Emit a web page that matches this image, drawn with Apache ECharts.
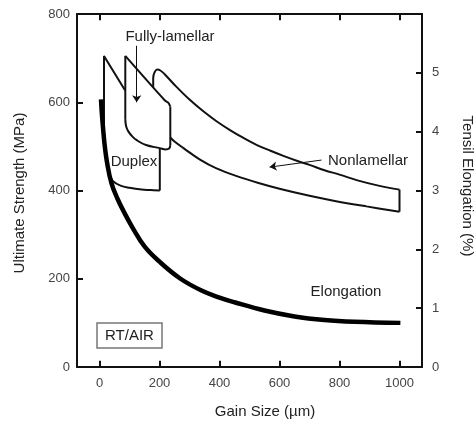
<!DOCTYPE html>
<html lang="en">
<head>
    <meta charset="UTF-8">
    <title>Strength / Elongation vs Gain Size</title>
    <script src="https://cdn.jsdelivr.net/npm/echarts@6.0.0/dist/echarts.min.js"></script>
    <style>
        html, body { margin: 0; padding: 0; background: #fff; }
        #main { width: 476px; height: 424px; }
    </style>
</head>
<body>
<div id="main"></div>
<script>
    // tick labels
    var xTicks = [0, 200, 400, 600, 800, 1000];

    // Duplex outline (MPa)
    var duplexEdge = [[15, 515], [15, 705], [85, 627]];
    var duplexBottom = [[35, 433], [45, 421], [70, 411], [100, 406], [140, 402], [170, 401], [201, 400]];
    var duplexRight = [[201, 400], [201, 496]];

    // Fully-lamellar outline (MPa)
    var flLeft = [[86, 705], [86, 560]];
    var flBottom = [[86, 560], [89, 545], [96, 534], [110, 522], [124, 514], [155, 503], [201, 496], [220, 493], [232, 495], [236, 503]];
    var flRight = [[236, 503], [236, 590]];
    var flTop = [[86, 705], [218, 604], [229, 599], [236, 590]];

    // Nonlamellar band (MPa)
    var nlTop = [[179, 634], [179, 655], [183, 667], [192, 674], [203, 672], [218, 663], [255, 636], [300, 606], [345, 580],
        [390, 557], [435, 537], [480, 519], [525, 503], [570, 490], [615, 478], [660, 467], [700, 458], [750, 446],
        [800, 436], [860, 423], [930, 411], [1000, 402]];
    var nlRight = [[1000, 402], [1000, 352]];
    var nlBottom = [[236, 520], [250, 511], [280, 496], [335, 470], [390, 450], [460, 432], [530, 417], [600, 404],
        [700, 388], [780, 377], [890, 364], [1000, 352]];

    // Elongation (%), right axis
    var elongation = [[5, 4.55], [8, 4.3], [12, 4.05], [17, 3.78], [25, 3.48], [40, 3.12], [60, 2.86], [80, 2.65],
        [110, 2.37], [150, 2.05], [200, 1.79], [270, 1.50], [340, 1.30], [400, 1.18], [450, 1.10], [550, 0.96],
        [650, 0.86], [750, 0.80], [850, 0.77], [1003, 0.75]];

    // annotation arrows (data coords)
    var flArrow = [[124, 728], [124, 600]];
    var nlArrow = [[740, 469], [567, 453]];

    var font = "'Liberation Sans', Arial, sans-serif";
    var ink = '#111';

    function outline(data, smooth) {
        return {
            type: 'line',
            data: data,
            smooth: smooth,
            symbol: 'none',
            lineStyle: {color: ink, width: 2},
            z: 3
        };
    }

    function arrow(pts) {
        return {
            type: 'lines',
            coordinateSystem: 'cartesian2d',
            symbol: ['none', 'arrow'],
            symbolSize: 7,
            lineStyle: {color: ink, width: 1, opacity: 1},
            data: [{coords: pts}],
            z: 4
        };
    }

    // inward x ticks on bottom and top frame (tick length ~ 14 MPa = 6px)
    var tickLen = 14;
    var xTickLines = [];
    xTicks.forEach(function (v) {
        xTickLines.push({coords: [[v, 0], [v, tickLen]]});
        xTickLines.push({coords: [[v, 800], [v, 800 - tickLen]]});
    });

    var tickStyle = {color: ink, width: 2};
    var lineStyle = {color: ink, width: 2};
    var labelStyle = {color: '#444', fontSize: 13, fontFamily: font};

    var chart = echarts.init(document.getElementById('main'));
    chart.setOption({
        animation: false,
        grid: {left: 77, right: 54, top: 14, bottom: 57},
        xAxis: [
            {
                type: 'value', position: 'bottom', min: -75, max: 1075,
                splitLine: {show: false},
                axisLine: {onZero: false, lineStyle: lineStyle},
                axisTick: {show: false},
                axisLabel: Object.assign({customValues: xTicks, margin: 10, formatter: function (v) { return String(v); }}, labelStyle)
            },
            {
                type: 'value', position: 'top', min: -75, max: 1075,
                splitLine: {show: false},
                axisLine: {onZero: false, lineStyle: lineStyle},
                axisTick: {show: false},
                axisLabel: {show: false}
            }
        ],
        yAxis: [
            {
                type: 'value', position: 'left', min: 0, max: 800, interval: 200,
                splitLine: {show: false},
                axisLine: {onZero: false, lineStyle: lineStyle},
                axisTick: {inside: true, length: 6, lineStyle: tickStyle},
                axisLabel: Object.assign({margin: 7}, labelStyle)
            },
            {
                type: 'value', position: 'right', min: 0, max: 6, interval: 1,
                splitLine: {show: false},
                axisLine: {onZero: false, lineStyle: lineStyle},
                axisTick: {inside: true, length: 6, lineStyle: tickStyle},
                axisLabel: Object.assign({
                    margin: 10,
                    formatter: function (v) { return v === 6 ? '' : String(v); }
                }, labelStyle)
            }
        ],
        series: [
            outline(duplexEdge, false),
            outline(duplexBottom, 0.4),
            outline(duplexRight, false),
            outline(flLeft, false),
            outline(flBottom, 0.4),
            outline(flRight, false),
            outline(flTop, 0.3),
            outline(nlTop, 0.4),
            outline(nlRight, false),
            outline(nlBottom, 0.4),
            {
                type: 'line',
                name: 'Elongation',
                yAxisIndex: 1,
                data: elongation,
                smooth: 0.4,
                symbol: 'none',
                lineStyle: {color: '#000', width: 4.5},
                z: 5
            },
            arrow(flArrow),
            arrow(nlArrow),
            {
                type: 'lines',
                coordinateSystem: 'cartesian2d',
                data: xTickLines,
                symbol: 'none',
                lineStyle: {color: ink, width: 2, opacity: 1},
                silent: true,
                z: 6
            }
        ],
        graphic: [
            {type: 'text', x: 170, y: 37, style: {text: 'Fully-lamellar', font: '15px ' + font, fill: '#222', align: 'center', verticalAlign: 'middle'}},
            {type: 'text', x: 134, y: 162, style: {text: 'Duplex', font: '15px ' + font, fill: '#222', align: 'center', verticalAlign: 'middle'}},
            {type: 'text', x: 368, y: 161, style: {text: 'Nonlamellar', font: '15px ' + font, fill: '#222', align: 'center', verticalAlign: 'middle'}},
            {type: 'text', x: 346, y: 292, style: {text: 'Elongation', font: '15px ' + font, fill: '#222', align: 'center', verticalAlign: 'middle'}},
            {type: 'rect', shape: {x: 97, y: 323, width: 65, height: 25}, style: {fill: '#fff', stroke: '#777', lineWidth: 1.5}},
            {type: 'text', x: 129.5, y: 335.5, style: {text: 'RT/AIR', font: '15px ' + font, fill: '#222', align: 'center', verticalAlign: 'middle'}},
            // axis titles
            {type: 'text', x: 20, y: 193, rotation: Math.PI / 2, style: {text: 'Ultimate Strength (MPa)', font: '15px ' + font, fill: '#222', align: 'center', verticalAlign: 'middle'}},
            {type: 'text', x: 467, y: 186, rotation: -Math.PI / 2, style: {text: 'Tensil Elongation (%)', font: '15px ' + font, fill: '#222', align: 'center', verticalAlign: 'middle'}},
            {type: 'text', x: 265, y: 412, style: {text: 'Gain Size (\u00b5m)', font: '15px ' + font, fill: '#222', align: 'center', verticalAlign: 'middle'}}
        ]
    });
</script>
</body>
</html>
